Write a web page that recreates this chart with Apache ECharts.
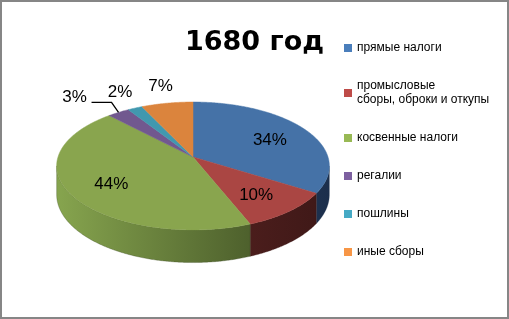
<!DOCTYPE html>
<html><head><meta charset="utf-8">
<script src="https://cdn.jsdelivr.net/npm/echarts@6/dist/echarts.min.js"></script>
<style>html,body{margin:0;padding:0;background:#fff}#c{width:509px;height:319px}</style>
</head><body><div id="c"></div>
<script>
// ---- data ----
const chartTitle = '1680 год';
const categories = ['прямые налоги', 'промысловые\nсборы, оброки и откупы', 'косвенные налоги', 'регалии', 'пошлины', 'иные сборы'];
const values = [34, 10, 44, 3, 2, 7];
const valueLabels = ['34%', '10%', '44%', '3%', '2%', '7%'];

// ---- styles ----
const topColors = ['#4572A7', '#AA4643', '#89A54E', '#71588F', '#4198AF', '#DB843D'];
const legendColors = ['#4A7EBB', '#BE4B48', '#98B954', '#7D60A0', '#46AAC5', '#F79646'];
const wallColors = [['#3A5F8C', '#1C2F4C'], ['#6A2A28', '#3E1817'], ['#86A44E', '#37451F'], ['#5A4672', '#3A2D4A'], ['#357C8E', '#22505C'], ['#B06A30', '#70431E']];

// projection params
const CX = 193, CY = 157, RX = 135, RY = 62.7, K = 0.1406, H = 28;
const SIL1 = Math.acos(-K) * 180 / Math.PI, SIL2 = 360 - SIL1;

const total = values.reduce((s, v) => s + v, 0);
const starts = [], ends = [];
let acc = 0;
values.forEach(v => { starts.push(acc / total * 360); acc += v; ends.push(acc / total * 360); });

function proj(aDeg, f, down) {
  const a = aDeg * Math.PI / 180;
  const u = f * Math.sin(a), w = f * Math.cos(a);
  const den = 1 + K * w;
  return [CX + RX * u / den, CY - RY * w / den + down / den];
}
function arc(a1, a2, down) {
  const pts = [];
  const n = Math.max(2, Math.ceil((a2 - a1) / 0.5));
  for (let j = 0; j <= n; j++) pts.push(proj(a1 + (a2 - a1) * j / n, 1, down));
  return pts;
}

function renderWall(params) {
  const i = params.dataIndex;
  const a1 = Math.max(starts[i], SIL1), a2 = Math.min(ends[i], SIL2);
  if (a2 <= a1) return { type: 'group', children: [] };
  const top = arc(a1, a2, 0), bot = arc(a1, a2, H).reverse();
  return {
    type: 'polygon',
    shape: { points: top.concat(bot) },
    style: {
      fill: new echarts.graphic.LinearGradient(CX - RX, 0, CX + RX, 0, [
        { offset: 0, color: wallColors[i][0] }, { offset: 1, color: wallColors[i][1] }], true),
      stroke: wallColors[i][1], lineWidth: 0.3
    }
  };
}
function renderTop(params) {
  const i = params.dataIndex;
  const pts = [[CX, CY]].concat(arc(starts[i], ends[i], 0));
  return { type: 'polygon', shape: { points: pts }, style: { fill: topColors[i], stroke: topColors[i], lineWidth: 0.5 } };
}
// label positions
function labelPos(i) {
  const mid = (starts[i] + ends[i]) / 2;
  if (values[i] / total >= 0.1) {
    const p = proj(mid, 0.68, 0);
    return [p[0], p[1] + 3];
  }
  const p = proj(mid, 1.3, 0);
  return [p[0], p[1] - 3];
}
function renderLabel(params) {
  const i = params.dataIndex;
  const mid = (starts[i] + ends[i]) / 2;
  let p = labelPos(i);
  const children = [];
  const outside = values[i] / total < 0.1;
  if (outside && i + 1 < values.length) {
    const q = labelPos(i + 1);
    if (Math.hypot(q[0] - p[0], q[1] - p[1]) < 30) {
      const A = proj(mid, 1, 0);
      p = [A[0] - 44, A[1] - 15];
      children.push({ type: 'polyline', shape: { points: [A, [A[0] - 7, A[1] - 10], [A[0] - 27, A[1] - 10]] },
        style: { stroke: '#000', lineWidth: 1.3, fill: null } });
    }
  }
  children.push({ type: 'text', x: p[0], y: p[1],
    style: { text: valueLabels[i], fill: '#000', font: '17px "Liberation Sans", Arial, sans-serif', align: 'center', verticalAlign: 'middle' } });
  return { type: 'group', children };
}

const seriesData = values.map((v, i) => ({ name: categories[i], value: v }));

const chart = echarts.init(document.getElementById('c'), null, { renderer: 'canvas' });
chart.setOption({
  animation: false,
  backgroundColor: '#fff',
  title: { text: chartTitle, left: 'center', top: 24,
    textStyle: { fontFamily: 'DejaVu Sans', fontWeight: 'bold', fontSize: 27, color: '#000' } },
  legend: {
    orient: 'vertical', left: 344, top: 41, padding: 0, itemWidth: 8, itemHeight: 8, itemGap: 24, icon: 'rect',
    selectedMode: false,
    data: categories,
    textStyle: { fontFamily: '"Liberation Sans Narrow", "Liberation Sans", sans-serif', fontSize: 12, lineHeight: 14, color: '#000' }
  },
  graphic: [{ type: 'rect', shape: { x: 1, y: 1, width: 507, height: 317 }, style: { fill: null, stroke: '#868686', lineWidth: 2 }, z: 100 }],
  series: [
    { type: 'pie', name: 'legend', radius: [0, 0], silent: true, label: { show: false }, labelLine: { show: false },
      data: seriesData.map((d, i) => ({ name: d.name, value: d.value, itemStyle: { color: legendColors[i] } })) },
    { type: 'custom', coordinateSystem: 'none', z: 2, silent: true, renderItem: renderWall, data: values },
    { type: 'custom', coordinateSystem: 'none', z: 3, silent: true, renderItem: renderTop, data: values },
    { type: 'custom', coordinateSystem: 'none', z: 4, silent: true, renderItem: renderLabel, data: values }
  ]
});
</script></body></html>
